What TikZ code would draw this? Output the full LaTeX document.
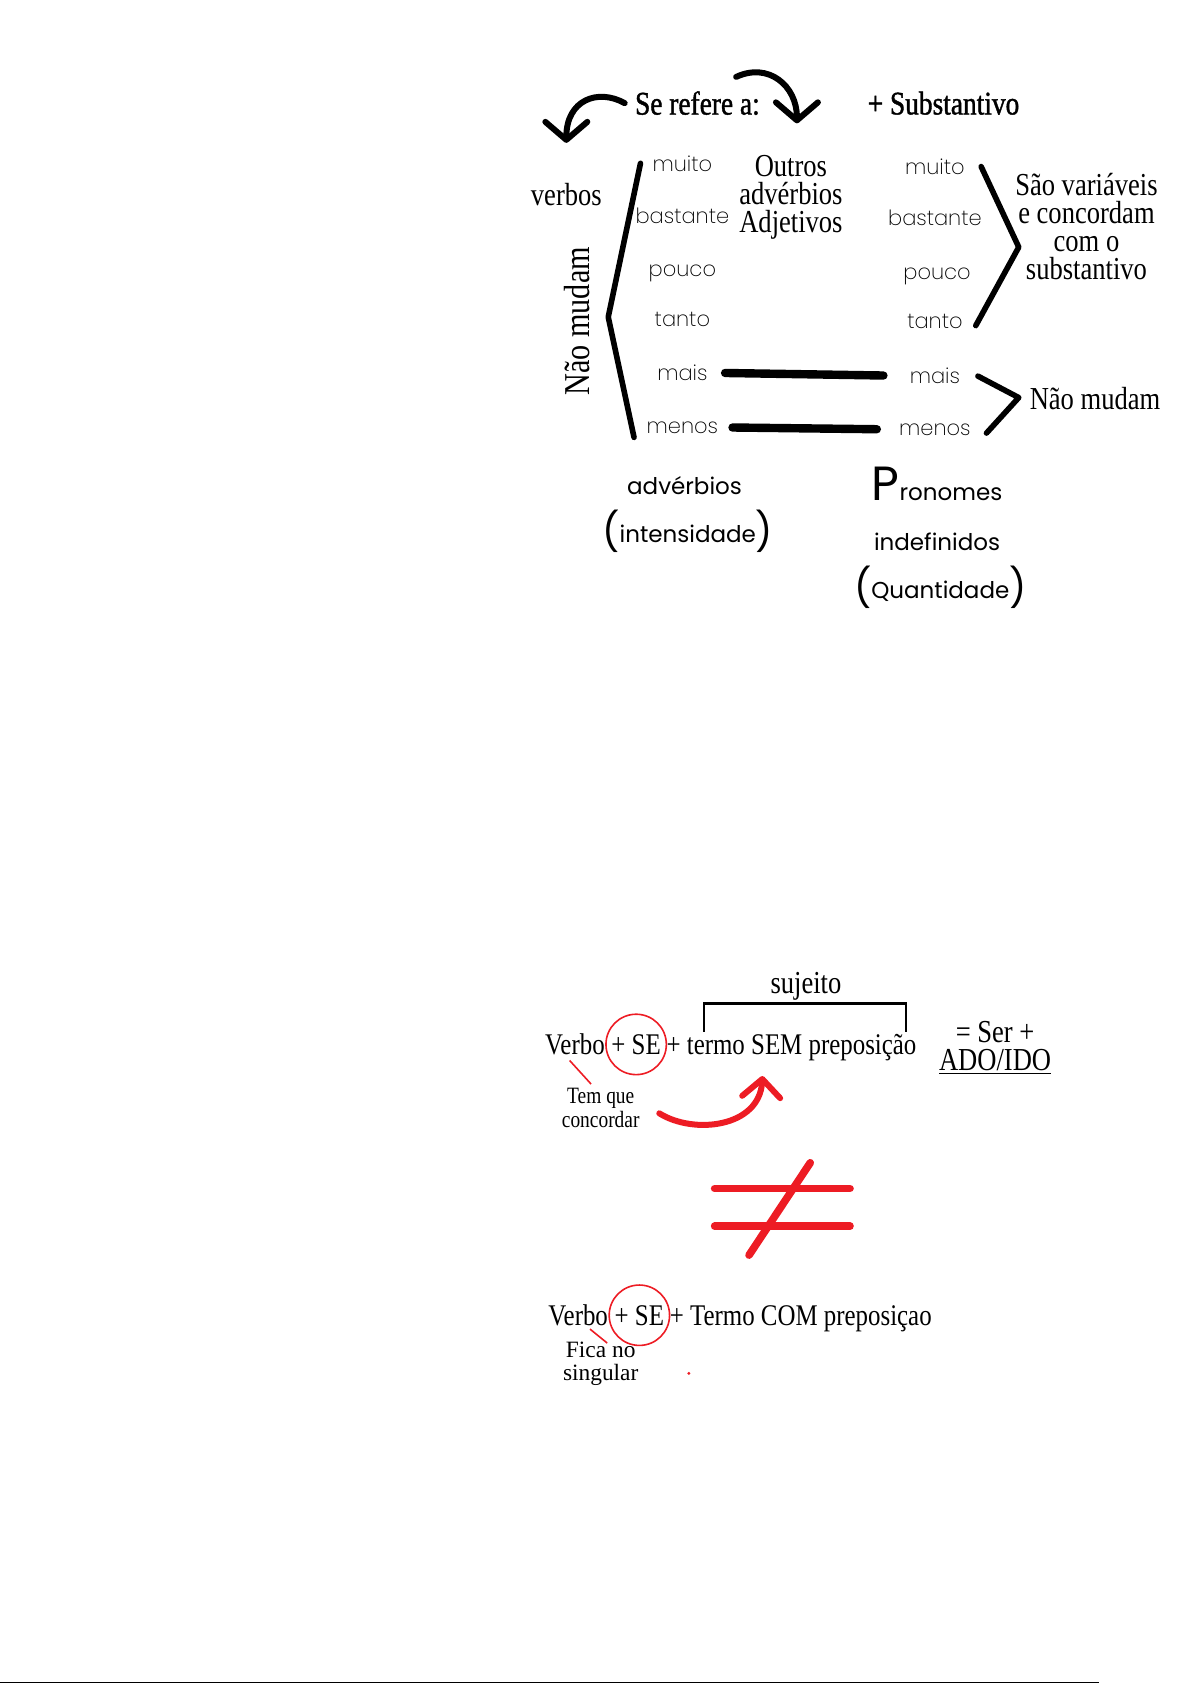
\documentclass[tikz,border=0pt]{standalone}
\usepackage{fontspec}
\setmainfont{Liberation Serif}[FakeStretch=0.83]
\newfontfamily\plainserif{Liberation Serif}
\newfontfamily\decofont{Poppins ExtraLight}
\newfontfamily\decoreg{Poppins}
\usepackage{tikz}
\usetikzlibrary{arrows.meta, positioning, calc}
\definecolor{myred}{RGB}{237,28,36}
\definecolor{mydark}{RGB}{0,0,0}
\tikzset{
  headtext/.style={font=\addfontfeatures{FakeBold=1.2}\fontsize{16.5}{14}\selectfont, inner sep=0pt},
  seriftext/.style={font=\fontsize{16}{14}\selectfont, align=center, inner sep=0pt},
  decoword/.style={font=\decofont\fontsize{10.5}{12}\selectfont, inner sep=0pt, anchor=base},
  decotitle/.style={font=\decoreg\fontsize{11.5}{14}\selectfont, inner sep=0pt, anchor=base},
  lineword/.style={font=\fontsize{15}{15}\selectfont, inner sep=0pt, anchor=base west},
  noteword/.style={font=\fontsize{11.7}{10.2}\selectfont, align=center, inner sep=0pt},
  ring/.style={circle, draw=myred, line width=0.8pt, minimum size=30.2pt, inner sep=0pt},
  bigarrow/.style={-{Straight Barb[length=9pt, width=21pt, round]}, line width=3pt, line cap=round, color=mydark},
  redarrow/.style={-{Straight Barb[length=9pt, width=19pt, round]}, line width=3pt, line cap=round, color=myred},
  brace/.style={line width=2.8pt, line cap=round, line join=round, color=mydark},
  bar/.style={line width=4.2pt, line cap=round, color=mydark},
  redline/.style={line width=0.8pt, color=myred},
  neqline/.style={line width=3.8pt, line cap=round, color=myred},
  bracketline/.style={line width=1.3pt, color=mydark}
}
\newcommand{\bigparen}[1]{{\fontsize{19}{19}\selectfont\raisebox{-1.5pt}{#1}}}

\begin{document}
\begin{tikzpicture}[x=0.5374pt, y=-0.5374pt]
  \useasboundingbox (0,0) rectangle (1110,1568);

  % Heading
  \node[headtext] (refere) at (649,96) {Se refere a:};
  \node[headtext] (subst) at (878,96) {+ Substantivo};
  \node[seriftext] (verbos) at (527,181) {verbos};
  \node[seriftext] (outros) at (736,184) {Outros\\adv\'erbios\\Adjetivos};
  \draw[bigarrow] ([xshift=-5pt]refere.west) .. controls +(-25,-14) and +(0,-40) .. ([yshift=20pt]verbos.north);
  \draw[bigarrow] ([xshift=-12pt, yshift=7pt]refere.north east) .. controls +(30,-14) and +(0,-35) .. ([xshift=3pt, yshift=16pt]outros.north);

  % Adverbs (left column)
  \node[decoword] (lmuito) at (635,160) {muito};
  \node[decoword] (lbast) at (635,208) {bastante};
  \node[decoword] (lpouco) at (635,257) {pouco};
  \node[decoword] (ltanto) at (635,304) {tanto};
  \node[decoword] (lmais) at (635,354) {mais};
  \node[decoword] (lmenos) at (635,403) {menos};

  % Pronouns (right column)
  \node[decoword] (rmuito) at (870,162) {muito};
  \node[decoword] (rbast) at (870,210) {bastante};
  \node[decoword] (rpouco) at (872,260) {pouco};
  \node[decoword] (rtanto) at (870,306) {tanto};
  \node[decoword] (rmais) at (870,357) {mais};
  \node[decoword] (rmenos) at (870,405) {menos};

  % Brackets
  \coordinate (lbtop) at (596,152);
  \coordinate (lbmid) at (566,295);
  \coordinate (lbbot) at (590,407);
  \draw[brace] (lbtop) -- (lbmid) -- (lbbot);
  \node[seriftext, rotate=90, font=\fontsize{18.2}{18}\selectfont] (naomudam1) at (537,299) {N\~ao mudam};

  \coordinate (rbtop) at (913,155);
  \coordinate (rbmid) at (948,230);
  \coordinate (rbbot) at (908,303);
  \draw[brace] (rbtop) -- (rbmid) -- (rbbot);
  \node[seriftext] (variaveis) at (1011,211) {S\~ao vari\'aveis\\e concordam\\com o\\substantivo};

  \coordinate (rctop) at (910,350);
  \coordinate (rcmid) at (948,370);
  \coordinate (rcbot) at (918,403);
  \draw[brace] (rctop) -- (rcmid) -- (rcbot);
  \node[seriftext] (naomudam2) at (1019,371) {N\~ao mudam};

  \draw[bar, shorten <=8.6pt, shorten >=13pt] (lmais.east) -- (rmais.west);
  \draw[bar, shorten <=7pt, shorten >=11pt] (lmenos.east) -- (rmenos.west);

  % Column titles
  \node[decotitle] (adverbios) at (637,460) {adv\'erbios};
  \node[decotitle] (intens) at (640,505) {\bigparen{(}intensidade\bigparen{)}};
  \node[decotitle] (pronomes) at (872,466) {{\fontsize{24}{24}\selectfont P}ronomes};
  \node[decotitle] (indef) at (872,512) {indefinidos};
  \node[decotitle] (quant) at (875,557) {\bigparen{(}Quantidade\bigparen{)}};

  % Verbo + SE, sem preposicao
  \node[lineword] (verbo1) at (507,981) {Verbo};
  \node[lineword] (se1) at ([xshift=3pt]verbo1.base east) {+ SE};
  \node[lineword] (resto1) at ([xshift=2.5pt]se1.base east) {+ termo SEM preposi\c{c}\~ao};
  \node[ring] (ring1) at (se1.center) {};
  \node[seriftext] (sujeito) at (750,918) {sujeito};
  \coordinate (sujleft) at (655,960);
  \coordinate (sujright) at (843,960);
  \draw[bracketline] (sujleft) -- ++(0,-26) -| (sujright);
  \node[seriftext] (ser) at (926,960) {= Ser +};
  \node[seriftext] (ado) at (926,988) {\underline{ADO/IDO}};
  \node[noteword] (tem) at (559,1031) {Tem que\\concordar};
  \draw[redline] ($(verbo1.south)+(-5,5)$) -- ($(verbo1.south)+(15,27)$);
  \draw[redarrow] ($(tem.east)+(18,5)$) .. controls +(32,20) and +(-3,48) .. ($(resto1.south)+(-27,14)$);

  % Not equal
  \draw[neqline] (665,1106) -- (791,1106);
  \draw[neqline] (665,1141) -- (791,1141);
  \draw[neqline] (754,1082) -- (697,1168);

  % Verbo + SE, com preposicao
  \node[lineword] (verbo2) at (510,1233) {Verbo};
  \node[lineword] (se2) at ([xshift=3pt]verbo2.base east) {+ SE};
  \node[lineword] (resto2) at ([xshift=2.5pt]se2.base east) {+ Termo COM preposi\c{c}ao};
  \node[ring] (ring2) at (se2.center) {};
  \node[noteword, font=\plainserif\fontsize{11.7}{11.3}\selectfont] (fica) at (559,1269) {Fica no\\singular};
  \draw[redline] ($(verbo2.south)+(11,3)$) -- ($(verbo2.south)+(27,16)$);
  \fill[myred] (641,1278) circle (1.5);

  % Page edge
  \draw[line width=0.55pt] (0,1566) -- (1023,1566);
\end{tikzpicture}
\end{document}
